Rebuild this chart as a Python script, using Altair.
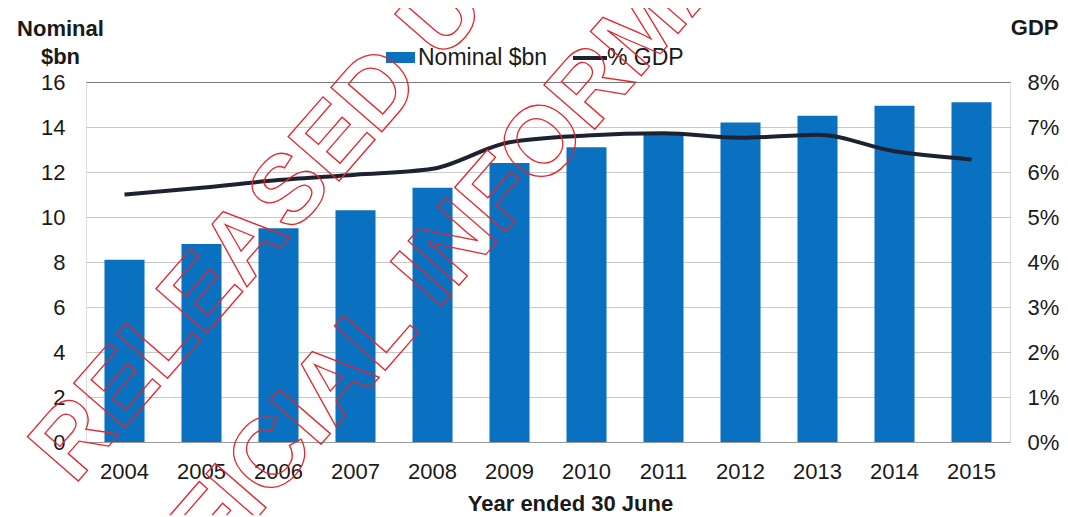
import altair as alt
import pandas as pd

# ---- data ----
years = ["2004", "2005", "2006", "2007", "2008", "2009",
         "2010", "2011", "2012", "2013", "2014", "2015"]
nominal_bn = [8.1, 8.8, 9.5, 10.3, 11.3, 12.4, 13.1, 13.75, 14.2, 14.5, 14.95, 15.1]
gdp_pct = [5.5, 5.65, 5.82, 5.94, 6.07, 6.66, 6.81, 6.86, 6.76, 6.83, 6.46, 6.28]
left_ticks = [0, 2, 4, 6, 8, 10, 12, 14, 16]
right_ticks = [0, 0.01, 0.02, 0.03, 0.04, 0.05, 0.06, 0.07, 0.08]
legend_labels = ["Nominal $bn", "% GDP"]
stamp_lines = ["RELEASED UNDER THE", "OFFICIAL INFORMATION ACT"]

df = pd.DataFrame({
    "year": years,
    "nominal": nominal_bn,
    "gdp": [v / 100 for v in gdp_pct],
})

FONT = "Liberation Sans"
BLUE = "#0a71c1"
DARK = "#1c2230"
RED = "#e3262d"
TXT = "#1a1a1a"

x_enc = alt.X(
    "year:N", sort=years,
    scale=alt.Scale(paddingInner=0.48, paddingOuter=0.24),
    axis=alt.Axis(
        title="Year ended 30 June", labelAngle=0, labelFont=FONT, labelFontSize=22,
        labelColor=TXT, labelPadding=19, ticks=False, domain=True,
        domainColor="#9a9a9a", domainWidth=1, grid=False,
        titleFont=FONT, titleFontSize=22, titleFontWeight="bold", titleColor=TXT,
        titleBaseline="alphabetic", titleAnchor="start", titleAlign="center",
        titleX=484, titleY=68,
    ),
)

bars = alt.Chart(df).mark_bar(color=BLUE).encode(
    x=x_enc,
    y=alt.Y(
        "nominal:Q",
        scale=alt.Scale(domain=[0, 16], nice=False),
        axis=alt.Axis(
            values=left_ticks, title=["Nominal", "$bn"], labelFont=FONT,
            labelFontSize=22, labelColor=TXT, labelPadding=21, ticks=False,
            domain=False, grid=True,
            gridColor={"condition": {"test": "datum.value === 16", "value": "#7a7a7a"},
                       "value": "#c9c9c9"},
            gridWidth=1,
            titleFont=FONT, titleFontSize=22, titleFontWeight="bold", titleColor=TXT,
            titleAngle=0, titleAlign="center", titleBaseline="alphabetic",
            titleX=-26, titleY=-47, titleLineHeight=28,
        ),
    ),
)

line = alt.Chart(df).mark_line(color=DARK, strokeWidth=4, interpolate="monotone").encode(
    x=alt.X("year:N", sort=years),
    y=alt.Y(
        "gdp:Q",
        scale=alt.Scale(domain=[0, 0.08], nice=False),
        axis=alt.Axis(
            orient="right", values=right_ticks, format=".0%", title="GDP",
            labelFont=FONT, labelFontSize=22, labelColor=TXT, labelPadding=17,
            ticks=False, domain=False, grid=False,
            titleFont=FONT, titleFontSize=22, titleFontWeight="bold", titleColor=TXT,
            titleAngle=0, titleAlign="right", titleBaseline="alphabetic",
            titleX=48, titleY=-48,
        ),
    ),
)

one = pd.DataFrame({"k": [0]})

leg_rect = alt.Chart(one).mark_rect(color=BLUE).encode(
    x=alt.value(300), x2=alt.value(329), y=alt.value(-30), y2=alt.value(-19))
leg_text1 = alt.Chart(pd.DataFrame({"label": [legend_labels[0]]})).mark_text(
    font=FONT, fontSize=23, color=TXT, align="left", baseline="middle").encode(
    text="label:N", x=alt.value(332), y=alt.value(-24))
leg_rule = alt.Chart(one).mark_rule(color=DARK, strokeWidth=4).encode(
    x=alt.value(487), x2=alt.value(521), y=alt.value(-24))
leg_text2 = alt.Chart(pd.DataFrame({"label": [legend_labels[1]]})).mark_text(
    font=FONT, fontSize=23, color=TXT, align="left", baseline="middle").encode(
    text="label:N", x=alt.value(521), y=alt.value(-24))

stamp1 = alt.Chart(pd.DataFrame({"t": [stamp_lines[0]]})).mark_text(
    font=FONT, fontSize=98, fontWeight="bold", angle=311, align="left",
    baseline="middle", fillOpacity=0, stroke=RED, strokeWidth=1.3).encode(
    text="t:N", x=alt.value(-34), y=alt.value(385))
stamp2 = alt.Chart(pd.DataFrame({"t": [stamp_lines[1]]})).mark_text(
    font=FONT, fontSize=98, fontWeight="bold", angle=311, align="left",
    baseline="middle", fillOpacity=0, stroke=RED, strokeWidth=1.3).encode(
    text="t:N", x=alt.value(16), y=alt.value(570))

chart = alt.layer(
    bars, line, leg_rect, leg_text1, leg_rule, leg_text2, stamp1, stamp2
).resolve_scale(y="independent").properties(
    width=924, height=360,
    padding={"left": 78, "top": 74, "right": 50, "bottom": 73},
    autosize=alt.AutoSizeParams(type="none"),
).configure_view(stroke=None).configure(background="white")

chart.save("out.html", embed_options={"renderer": "svg", "actions": False})
